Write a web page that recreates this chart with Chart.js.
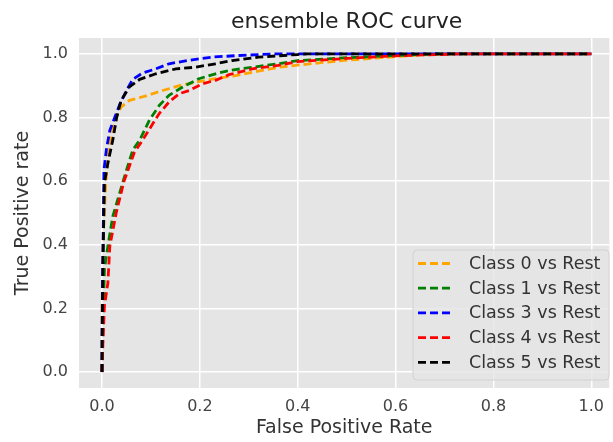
<!DOCTYPE html>
<html>
<head>
<meta charset="utf-8">
<script src="https://cdn.jsdelivr.net/npm/chart.js@4.4.1/dist/chart.umd.min.js"></script>
<style>
  html, body { margin: 0; padding: 0; background: #fff; }
  #wrap { width: 613px; height: 442px; }
</style>
</head>
<body>
<div id="wrap"><canvas id="myChart" width="613" height="442"></canvas></div>
<script>
// values
const xTicks = [0, 0.2, 0.4, 0.6, 0.8, 1.0];
const yTicks = [0, 0.2, 0.4, 0.6, 0.8, 1.0];

const class0Fpr = [0, 0, 0.003, 0.008, 0.014, 0.019, 0.029, 0.039, 0.056, 0.09, 0.124, 0.158, 0.198, 0.232, 0.273, 0.327, 0.361, 0.42, 0.49, 0.57, 0.64, 0.72, 1.0];
const class0Tpr = [0, 0.2, 0.45, 0.6, 0.7, 0.75, 0.8, 0.833, 0.854, 0.868, 0.885, 0.9, 0.913, 0.922, 0.932, 0.948, 0.958, 0.968, 0.979, 0.988, 0.996, 1.0, 1.0];

const class1Fpr = [0, 0.002, 0.005, 0.012, 0.022, 0.036, 0.05, 0.063, 0.077, 0.097, 0.117, 0.137, 0.165, 0.198, 0.232, 0.26, 0.307, 0.36, 0.4, 0.5, 0.6, 0.68, 1.0];
const class1Tpr = [0, 0.15, 0.323, 0.396, 0.489, 0.5625, 0.635, 0.698, 0.729, 0.792, 0.838, 0.87, 0.896, 0.922, 0.9375, 0.948, 0.958, 0.969, 0.979, 0.988, 0.995, 1.0, 1.0];

const class3Fpr = [0, 0, 0.002, 0.004, 0.009, 0.016, 0.026, 0.036, 0.05, 0.063, 0.083, 0.11, 0.137, 0.178, 0.225, 0.28, 0.354, 1.0];
const class3Tpr = [0, 0.11, 0.385, 0.635, 0.70, 0.76, 0.80, 0.84, 0.885, 0.92, 0.94, 0.953, 0.969, 0.98, 0.99, 0.995, 1.0, 1.0];

const class4Fpr = [0, 0.002, 0.005, 0.012, 0.016, 0.029, 0.045, 0.066, 0.083, 0.104, 0.117, 0.137, 0.158, 0.178, 0.205, 0.232, 0.26, 0.307, 0.36, 0.4, 0.5, 0.6, 0.73, 1.0];
const class4Tpr = [0, 0.094, 0.208, 0.28, 0.396, 0.5, 0.6, 0.69, 0.729, 0.781, 0.8125, 0.849, 0.875, 0.885, 0.906, 0.917, 0.935, 0.953, 0.964, 0.976, 0.986, 0.994, 1.0, 1.0];

const class5Fpr = [0, 0, 0.002, 0.005, 0.012, 0.022, 0.03, 0.039, 0.056, 0.077, 0.11, 0.151, 0.19, 0.232, 0.266, 0.32, 0.4, 0.42, 1.0];
const class5Tpr = [0, 0.03, 0.35, 0.594, 0.656, 0.729, 0.80, 0.854, 0.896, 0.92, 0.9375, 0.953, 0.958, 0.969, 0.979, 0.99, 0.998, 1.0, 1.0];

const seriesLabels = ['Class 0 vs Rest', 'Class 1 vs Rest', 'Class 3 vs Rest', 'Class 4 vs Rest', 'Class 5 vs Rest'];
const seriesColors = ['orange', 'green', 'blue', 'red', 'black'];

function toPoints(xs, ys) {
  return xs.map((x, i) => ({ x: x, y: ys[i] }));
}

const allPoints = [
  toPoints(class0Fpr, class0Tpr),
  toPoints(class1Fpr, class1Tpr),
  toPoints(class3Fpr, class3Tpr),
  toPoints(class4Fpr, class4Tpr),
  toPoints(class5Fpr, class5Tpr)
];

const fontFamily = "'DejaVu Sans', sans-serif";

// grey plot background (ggplot look)
const plotBg = {
  id: 'plotBg',
  beforeDraw(chart) {
    const { ctx, chartArea } = chart;
    ctx.save();
    ctx.fillStyle = '#e5e5e5';
    ctx.fillRect(chartArea.left, chartArea.top, chartArea.right - chartArea.left, chartArea.bottom - chartArea.top);
    ctx.restore();
  }
};

// title centred over the data range
const plotTitle = {
  id: 'plotTitle',
  afterDraw(chart) {
    const ctx = chart.ctx;
    const cx = chart.scales.x.getPixelForValue(0.5);
    ctx.save();
    ctx.font = '22px ' + fontFamily;
    ctx.fillStyle = '#222';
    ctx.textAlign = 'center';
    ctx.textBaseline = 'alphabetic';
    ctx.fillText('ensemble ROC curve', cx, 28);
    ctx.restore();
  }
};

// legend inside lower right corner
const boxLegend = {
  id: 'boxLegend',
  afterDatasetsDraw(chart) {
    const ctx = chart.ctx;
    const left = 413, top = 250, w = 196, h = 130;
    ctx.save();
    ctx.beginPath();
    ctx.roundRect(left, top, w, h, 4);
    ctx.fillStyle = 'rgba(229,229,229,0.8)';
    ctx.fill();
    ctx.strokeStyle = '#d2d2d2';
    ctx.lineWidth = 1;
    ctx.stroke();
    ctx.font = '17.5px ' + fontFamily;
    ctx.textBaseline = 'middle';
    ctx.textAlign = 'left';
    chart.data.datasets.forEach((ds, i) => {
      const y = 263.5 + i * 24.7;
      ctx.beginPath();
      ctx.setLineDash([8, 4]);
      ctx.lineWidth = 2.8;
      ctx.strokeStyle = ds.borderColor;
      ctx.moveTo(418, y);
      ctx.lineTo(454, y);
      ctx.stroke();
      ctx.setLineDash([]);
      ctx.fillStyle = '#333';
      ctx.fillText(ds.label, 469, y + 1);
    });
    ctx.restore();
  }
};

const ctx = document.getElementById('myChart').getContext('2d');

const myChart = new Chart(ctx, {
  type: 'line',
  data: {
    datasets: allPoints.map((pts, i) => ({
      label: seriesLabels[i],
      data: pts,
      borderColor: seriesColors[i],
      backgroundColor: seriesColors[i],
      borderWidth: 2.8,
      borderDash: [8, 4],
      pointRadius: 0,
      tension: 0,
      fill: false,
      order: 5 - i
    }))
  },
  options: {
    responsive: false,
    animation: false,
    layout: { padding: { top: 38, left: 0, right: 0, bottom: 0 } },
    plugins: {
      legend: { display: false },
      title: { display: false },
      tooltip: { enabled: false }
    },
    scales: {
      x: {
        type: 'linear',
        min: -0.047,
        max: 1.037,
        afterFit(scale) { scale.height = 54; },
        afterBuildTicks(scale) { scale.ticks = xTicks.map(v => ({ value: v })); },
        grid: { color: '#ffffff', lineWidth: 1.5, drawTicks: false },
        border: { display: false },
        ticks: {
          padding: 9,
          color: '#444',
          font: { family: fontFamily, size: 16 },
          callback: v => v.toFixed(1)
        },
        title: {
          display: true,
          text: 'False Positive Rate',
          color: '#333',
          font: { family: fontFamily, size: 19 },
          padding: { top: 0, bottom: 3 }
        }
      },
      y: {
        type: 'linear',
        min: -0.05,
        max: 1.05,
        afterFit(scale) { scale.width = 79; },
        afterBuildTicks(scale) { scale.ticks = yTicks.map(v => ({ value: v })); },
        grid: { color: '#ffffff', lineWidth: 1.5, drawTicks: false },
        border: { display: false },
        ticks: {
          padding: 11,
          color: '#444',
          font: { family: fontFamily, size: 16 },
          callback: v => v.toFixed(1)
        },
        title: {
          display: true,
          text: 'True Positive rate',
          color: '#333',
          font: { family: fontFamily, size: 19 },
          padding: { top: 12, bottom: 0 }
        }
      }
    }
  },
  plugins: [plotBg, plotTitle, boxLegend]
});
</script>
</body>
</html>
